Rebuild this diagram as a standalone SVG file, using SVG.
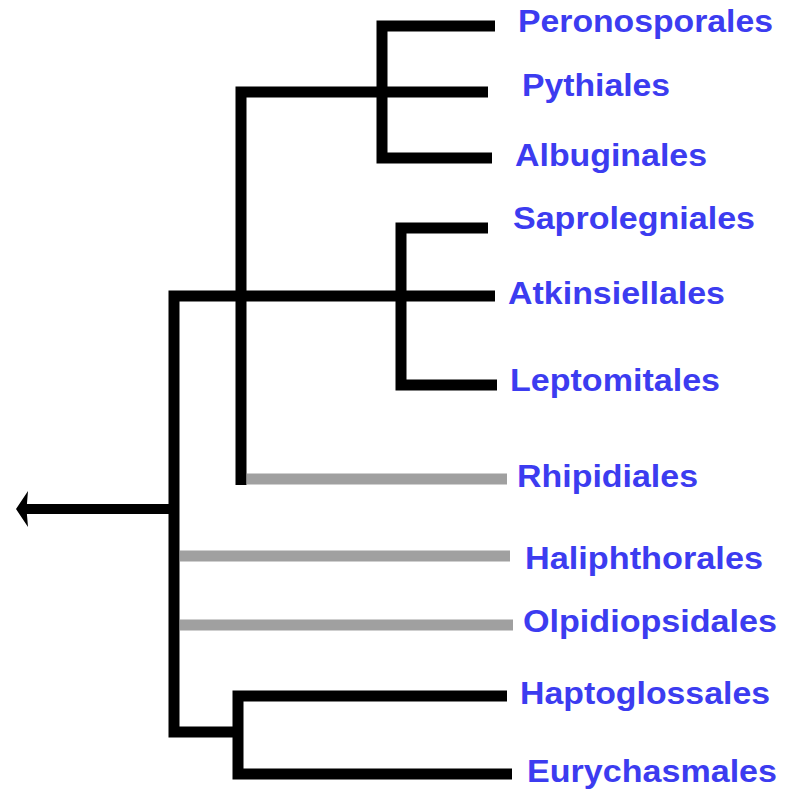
<svg xmlns="http://www.w3.org/2000/svg" width="785" height="793" viewBox="0 0 785 793">
<style>
.b{fill:none;stroke:#000;stroke-width:11;stroke-linejoin:miter;stroke-linecap:butt}
.g{fill:none;stroke:#a0a0a0;stroke-width:11;stroke-linecap:butt}
.t{font-family:"Liberation Sans",Arial,sans-serif;font-weight:bold;font-size:32px;fill:#3c3cf0}
</style>
<defs>
<marker id="arrow" markerUnits="userSpaceOnUse" viewBox="0 -21 14 42" markerWidth="14" markerHeight="42" refX="4" refY="0" orient="auto">
<path d="M0,-18 L12,0 L0,18 L1.5,0 Z" fill="#000"/>
</marker>
</defs>
<rect width="785" height="793" fill="#fff"/>
<g id="connectors">
<path class="b" d="M495,26 H382 V158 H492"/>
<path class="b" d="M241,485 V92 H488"/>
<path class="b" d="M488,228 H401 V385 H497"/>
<path class="b" d="M495,296 H174 V732 H238"/>
<path class="b" d="M507,696 H238 V774 H512"/>
<line class="g" x1="247" y1="479" x2="507" y2="479"/>
<line class="g" x1="180" y1="556" x2="510" y2="556"/>
<line class="g" x1="180" y1="625" x2="513" y2="625"/>
<line x1="174" y1="509" x2="24" y2="509" stroke="#000" stroke-width="10" marker-end="url(#arrow)"/>
</g>
<g id="peronosporales"><text class="t" x="518" y="32" textLength="255" lengthAdjust="spacingAndGlyphs">Peronosporales</text></g>
<g id="pythiales"><text class="t" x="522" y="96" textLength="148" lengthAdjust="spacingAndGlyphs">Pythiales</text></g>
<g id="albuginales"><text class="t" x="515" y="166" textLength="192" lengthAdjust="spacingAndGlyphs">Albuginales</text></g>
<g id="saprolegniales"><text class="t" x="513" y="229" textLength="242" lengthAdjust="spacingAndGlyphs">Saprolegniales</text></g>
<g id="atkinsiellales"><text class="t" x="508" y="304" textLength="217" lengthAdjust="spacingAndGlyphs">Atkinsiellales</text></g>
<g id="leptomitales"><text class="t" x="510" y="391" textLength="210" lengthAdjust="spacingAndGlyphs">Leptomitales</text></g>
<g id="rhipidiales"><text class="t" x="517" y="487" textLength="181" lengthAdjust="spacingAndGlyphs">Rhipidiales</text></g>
<g id="haliphthorales"><text class="t" x="525" y="569" textLength="238" lengthAdjust="spacingAndGlyphs">Haliphthorales</text></g>
<g id="olpidiopsidales"><text class="t" x="523" y="632" textLength="254" lengthAdjust="spacingAndGlyphs">Olpidiopsidales</text></g>
<g id="haptoglossales"><text class="t" x="520" y="704" textLength="250" lengthAdjust="spacingAndGlyphs">Haptoglossales</text></g>
<g id="eurychasmales"><text class="t" x="527" y="782" textLength="250" lengthAdjust="spacingAndGlyphs">Eurychasmales</text></g>
</svg>
